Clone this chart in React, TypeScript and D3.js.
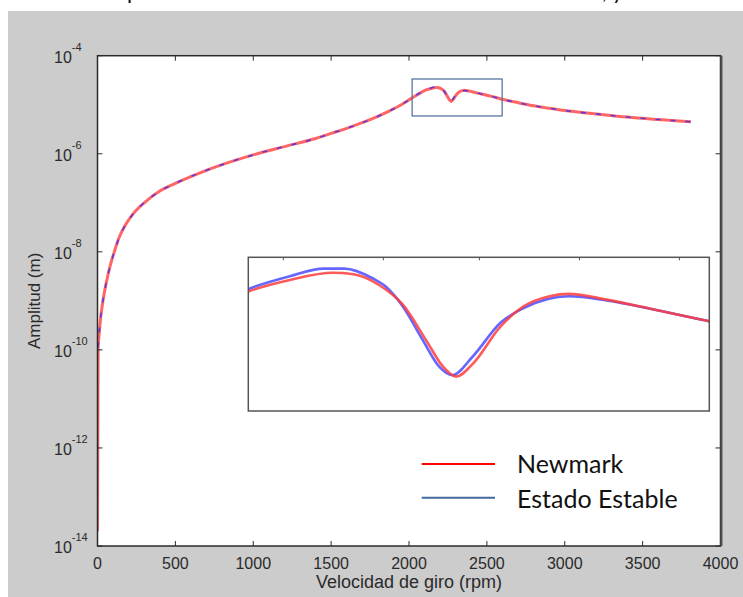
import React from "react";
import * as d3 from "d3";

// Respuesta en amplitud frente a la velocidad de giro
const newmarkRpm = [
  0, 4, 10, 20, 35, 55, 80, 110, 140, 180, 230, 300, 400, 500, 650, 800, 1000, 1200, 1400, 1500,
  1600, 1700, 1800, 1875, 1950, 2020, 2070, 2110, 2142, 2175, 2191, 2211, 2229, 2247, 2260, 2270,
  2283, 2304, 2322, 2342, 2357, 2386, 2424, 2464, 2530, 2600, 2700, 2800, 2900, 3000, 3200, 3400,
  3600, 3810,
];
const newmarkAmp = [
  2.0e-14, 1.12e-10, 2.0e-10, 4.5e-10, 1.0e-9, 2.24e-9, 5.0e-9, 1.05e-8, 2.0e-8, 3.55e-8, 6.0e-8,
  1.0e-7, 1.74e-7, 2.5e-7, 4.0e-7, 6.0e-7, 9.5e-7, 1.4e-6, 2.05e-6, 2.6e-6, 3.3e-6, 4.3e-6, 5.8e-6,
  7.5e-6, 1.0e-5, 1.38e-5, 1.72e-5, 2.0e-5, 2.15e-5, 2.25e-5, 2.23e-5, 2.08e-5, 1.84e-5, 1.47e-5,
  1.245e-5, 1.17e-5, 1.27e-5, 1.6e-5, 1.82e-5, 1.94e-5, 1.97e-5, 1.9e-5, 1.78e-5, 1.66e-5, 1.48e-5,
  1.29e-5, 1.1e-5, 9.5e-6, 8.5e-6, 7.6e-6, 6.5e-6, 5.6e-6, 5.0e-6, 4.5e-6,
];

const estableRpm = [
  4, 10, 20, 35, 55, 80, 110, 140, 180, 230, 300, 400, 500, 650, 800, 1000, 1200, 1400, 1500, 1600,
  1700, 1800, 1875, 1950, 2020, 2070, 2110, 2142, 2168, 2184, 2206, 2216, 2229, 2244, 2257, 2267,
  2283, 2304, 2322, 2357, 2386, 2424, 2464, 2530, 2600, 2700, 2800, 2900, 3000, 3200, 3400, 3600,
  3810,
];
const estableAmp = [
  1.12e-10, 2.0e-10, 4.5e-10, 1.0e-9, 2.24e-9, 5.0e-9, 1.05e-8, 2.0e-8, 3.55e-8, 6.0e-8, 1.0e-7,
  1.74e-7, 2.5e-7, 4.0e-7, 6.0e-7, 9.5e-7, 1.4e-6, 2.05e-6, 2.6e-6, 3.3e-6, 4.3e-6, 5.8e-6, 7.5e-6,
  1.0e-5, 1.38e-5, 1.74e-5, 2.03e-5, 2.2e-5, 2.31e-5, 2.31e-5, 2.17e-5, 2.06e-5, 1.82e-5, 1.48e-5,
  1.245e-5, 1.18e-5, 1.33e-5, 1.64e-5, 1.8e-5, 1.94e-5, 1.89e-5, 1.78e-5, 1.66e-5, 1.48e-5, 1.29e-5,
  1.1e-5, 9.5e-6, 8.5e-6, 7.6e-6, 6.5e-6, 5.6e-6, 5.0e-6, 4.5e-6,
];

const xTicks = [0, 500, 1000, 1500, 2000, 2500, 3000, 3500, 4000];
const yTickExps = [-4, -6, -8, -10, -12, -14];

// recuadro de la zona ampliada y dominio del detalle
const zoomRpm = [2020, 2598];
const zoomAmp = [5.9e-6, 3.35e-5];
const insetRpm = [2110, 2465];
const insetAmp = [9.42e-6, 2.48e-5];
const insetTicks = [2137, 2214, 2288, 2365, 2442];

const legendLabels = ["Newmark", "Estado Estable"];
const legendColors = ["#ff0000", "#44699e"];

const W = 743;
const H = 597;
const axisFont = "Liberation Sans, Arial, sans-serif";
const textColor = "#2a2a2a";

export default function App() {
  const x = d3.scaleLinear().domain([0, 4000]).range([97.5, 720.5]);
  const y = d3.scaleLog().domain([1e-14, 1e-4]).range([546, 55.7]);

  const ix = d3.scaleLinear().domain(insetRpm).range([248.3, 709.3]);
  const iy = d3.scaleLog().domain(insetAmp).range([411, 257.3]);

  const nm = newmarkRpm.map((r, i) => [r, newmarkAmp[i]] as [number, number]);
  const es = estableRpm.map((r, i) => [r, estableAmp[i]] as [number, number]);

  const mainLine = d3
    .line<[number, number]>()
    .x((d) => x(d[0]))
    .y((d) => y(d[1]))
    .curve(d3.curveMonotoneX);
  const insetLine = d3
    .line<[number, number]>()
    .x((d) => ix(d[0]))
    .y((d) => iy(d[1]))
    .curve(d3.curveMonotoneX);

  const [x0, x1] = x.range();
  const [yb, yt] = y.range();
  const tick = 5;

  const [il, ir] = ix.range();
  const [ib, it] = iy.range();

  return (
    <svg
      width={W}
      height={H}
      viewBox={`0 0 ${W} ${H}`}
      style={{ position: "absolute", left: 0, top: 0, background: "#fff" }}
    >
      <defs>
        <filter id="soft" x="-5%" y="-5%" width="110%" height="110%">
          <feGaussianBlur stdDeviation="0.5" />
        </filter>
        <clipPath id="plotClip">
          <rect x={x0} y={yt} width={x1 - x0} height={yb - yt} />
        </clipPath>
        <clipPath id="insetClip">
          <rect x={il} y={it} width={ir - il} height={ib - it} />
        </clipPath>
      </defs>

      {/* pie de figura superior, recortado */}
      <g fontFamily="Lato, 'Open Sans', sans-serif" fontSize={22} fill="#111">
        <text x={127} y={-1}>p</text>
        <text x={602} y={-1}>, y</text>
      </g>

      {/* fondo de la figura */}
      <rect x={8} y={11} width={W - 8} height={H - 11} fill="#cccccc" />
      <rect x={x0} y={yt} width={x1 - x0} height={yb - yt} fill="#ffffff" />

      {/* curvas principales */}
      <g clipPath="url(#plotClip)" filter="url(#soft)">
        <path d={mainLine(nm) || ""} fill="none" stroke="#ff4040" strokeOpacity={0.8} strokeWidth={3} />
        <path
          d={mainLine(es) || ""}
          fill="none"
          stroke="#2a2aff"
          strokeOpacity={0.75}
          strokeWidth={1.6}
          strokeDasharray="5,10"
        />
      </g>

      {/* recuadro de la zona ampliada */}
      <rect
        x={x(zoomRpm[0])}
        y={y(zoomAmp[1])}
        width={x(zoomRpm[1]) - x(zoomRpm[0])}
        height={y(zoomAmp[0]) - y(zoomAmp[1])}
        fill="none"
        stroke="#4a6b9c"
        strokeWidth={1.2}
      />

      {/* detalle ampliado */}
      <rect x={il} y={it} width={ir - il} height={ib - it} fill="#ffffff" />
      <g clipPath="url(#insetClip)" filter="url(#soft)">
        <path d={insetLine(es) || ""} fill="none" stroke="#4b4bff" strokeOpacity={0.85} strokeWidth={2.6} />
        <path d={insetLine(nm) || ""} fill="none" stroke="#ff3c3c" strokeOpacity={0.85} strokeWidth={2.6} />
      </g>
      {insetTicks.map((t) => (
        <line key={t} x1={ix(t)} x2={ix(t)} y1={it} y2={it + 3} stroke="#555" strokeWidth={1} />
      ))}
      <rect x={il} y={it} width={ir - il} height={ib - it} fill="none" stroke="#555" strokeWidth={1.5} />

      {/* ejes */}
      <g stroke="#2b2b2b" strokeWidth={1}>
        {xTicks.map((t) => (
          <g key={t}>
            <line x1={x(t)} x2={x(t)} y1={yb} y2={yb - tick} />
            <line x1={x(t)} x2={x(t)} y1={yt} y2={yt + tick} />
          </g>
        ))}
        {yTickExps.map((e) => (
          <g key={e}>
            <line x1={x0} x2={x0 + tick} y1={y(Math.pow(10, e))} y2={y(Math.pow(10, e))} />
            <line x1={x1} x2={x1 - tick} y1={y(Math.pow(10, e))} y2={y(Math.pow(10, e))} />
          </g>
        ))}
      </g>
      <rect x={x0} y={yt} width={x1 - x0} height={yb - yt} fill="none" stroke="#2b2b2b" strokeWidth={1.5} />
      <line x1={x1 + 1} x2={x1 + 1} y1={yt} y2={yb} stroke="#555" strokeWidth={2} />

      <g fontFamily={axisFont} fill={textColor}>
        {xTicks.map((t) => (
          <text key={t} x={x(t)} y={569} textAnchor="middle" fontSize={16}>
            {t}
          </text>
        ))}
        {yTickExps.map((e) => (
          <text key={e} x={54} y={y(Math.pow(10, e)) + 7} fontSize={16}>
            10
            <tspan fontSize={11} dy={-12}>
              {e}
            </tspan>
          </text>
        ))}
        <text x={(x0 + x1) / 2} y={588} textAnchor="middle" fontSize={18}>
          Velocidad de giro (rpm)
        </text>
        <text
          transform={`translate(40,${(yt + yb) / 2}) rotate(-90)`}
          textAnchor="middle"
          fontSize={17}
        >
          Amplitud (m)
        </text>
      </g>

      {/* leyenda */}
      <g fontFamily="Lato, 'Open Sans', sans-serif" fontSize={25} fill="#111">
        {legendLabels.map((lab, i) => {
          const ly = 464 + i * 33.7;
          return (
            <g key={lab}>
              <line x1={421.7} x2={495} y1={ly} y2={ly} stroke={legendColors[i]} strokeWidth={2} />
              <text x={517} y={ly + 8.5 + i * 1.5}>
                {lab}
              </text>
            </g>
          );
        })}
      </g>
    </svg>
  );
}
